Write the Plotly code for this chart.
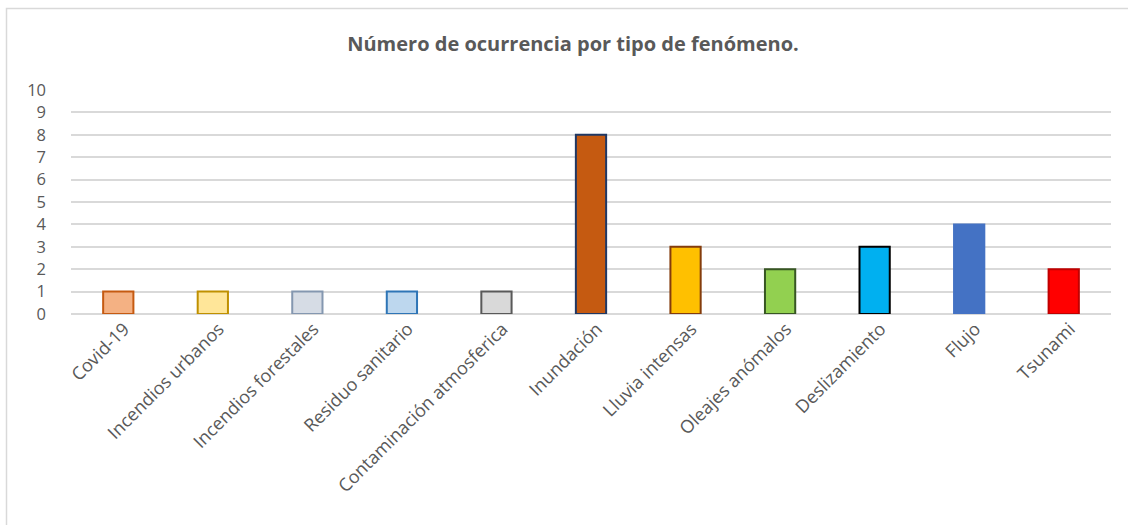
import plotly.graph_objects as go

categories = ["Covid-19", "Incendios urbanos", "Incendios forestales", "Residuo sanitario",
              "Contaminación atmosferica", "Inundación", "Lluvia intensas", "Oleajes anómalos",
              "Deslizamiento", "Flujo", "Tsunami"]
values = [1, 1, 1, 1, 1, 8, 3, 2, 3, 4, 2]
fill_colors = ["#F4B183", "#FFE699", "#D6DCE5", "#BDD7EE", "#D9D9D9", "#C55A11",
               "#FFC000", "#92D050", "#00B0F0", "#4472C4", "#FF0000"]
line_colors = ["#C55A11", "#BF9000", "#8497B0", "#2E75B6", "#595959", "#1F3864",
               "#843C0C", "#375623", "#000000", "#4472C4", "#C00000"]
y_ticks = list(range(0, 11))
title_text = "Número de ocurrencia por tipo de fenómeno."

W, H = 1128, 525
L, R, T, B = 71, 17, 90, 211
pw, ph = W - L - R, H - T - B

fig = go.Figure(go.Bar(
    x=categories, y=values,
    marker=dict(color=fill_colors, line=dict(color=line_colors, width=2)),
    width=0.32,
))

font_family = "Open Sans"
fig.update_layout(
    width=W, height=H,
    margin=dict(l=L, r=R, t=T, b=B, autoexpand=False),
    plot_bgcolor="white", paper_bgcolor="white",
    showlegend=False,
    title=dict(text="<b>" + title_text + "</b>", x=573 / W, xanchor="center",
               y=1 - 44 / H, yanchor="middle",
               font=dict(family=font_family, size=20, color="#595959")),
    xaxis=dict(tickangle=-45, tickfont=dict(family=font_family, size=18, color="#595959"),
               showline=False, ticks="", showgrid=False, ticklabelshift=6,
               ticklabelstandoff=0),
    yaxis=dict(range=[0, 10], tickvals=y_ticks, showgrid=True, gridcolor="#D9D9D9",
               gridwidth=1.5, zeroline=True, zerolinecolor="#D9D9D9", zerolinewidth=1.5,
               tickfont=dict(family=font_family, size=16.5, color="#595959"),
               ticks="", ticklabelstandoff=24),
    bargap=0.68,
)

fig.add_shape(type="rect", xref="paper", yref="paper",
              x0=(6.5 - L) / pw, x1=(1135 - L) / pw,
              y0=(H - B - 535) / ph, y1=(H - B - 8.5) / ph,
              line=dict(color="#D9D9D9", width=1.5), layer="below")

fig.write_html("out.html", config={"displayModeBar": False},
               post_script="document.body.style.margin='0px';")
